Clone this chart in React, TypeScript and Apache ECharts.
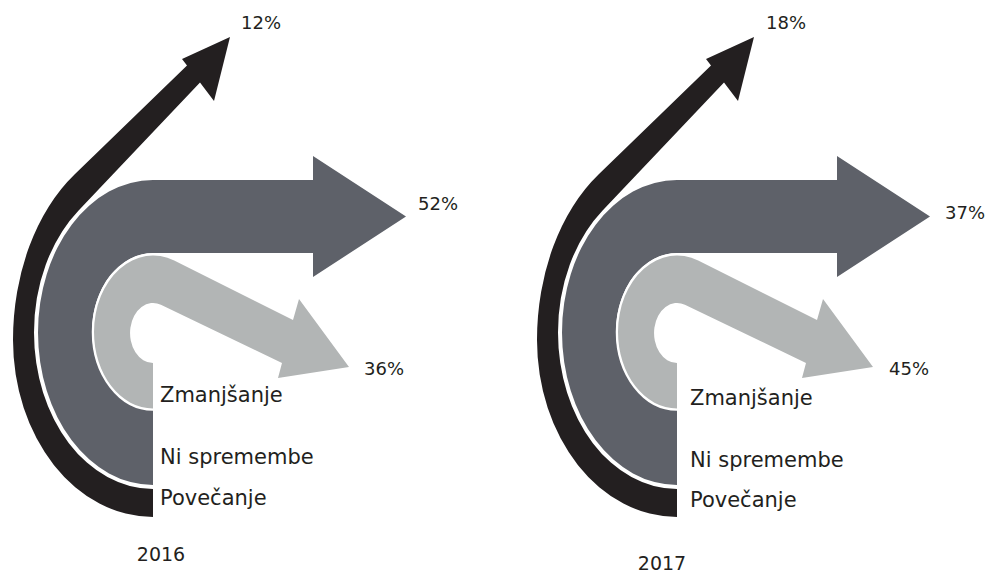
import React, { useEffect, useRef } from 'react';
import * as echarts from 'echarts';

// ---- data ----
const years = ['2016', '2017'];
const categories = ['Povečanje', 'Ni spremembe', 'Zmanjšanje'];
const increaseValues = [12, 18];
const noChangeValues = [52, 37];
const decreaseValues = [36, 45];

// ---- shapes (panel-local coordinates) ----
const UP_D =
  'M 153 517 A 140 177 0 0 1 13 340 A 140 200 0 0 1 74.5 174.4 L 187 65.5 L 182 59 L 230 37 L 214 101 L 200 82.6 L 78.6 210.4 A 119 156.5 0 0 0 34 332.5 A 119 156.5 0 0 0 153 489 Z';
const MID_D =
  'M 153 485 A 115 152.5 0 0 1 38 332.5 A 115 152.5 0 0 1 153 180 L 313 180 L 313 156 L 406 216.5 L 313 277 L 313 253 L 153 253 A 61 78 0 0 0 92 331 A 61 78 0 0 0 153 409 Z';
const DOWN_D =
  'M 153 408.5 A 59 76.5 0 0 1 94 332 A 59 76.5 0 0 1 174.2 260.6 L 293 320 L 299 299 L 349 367 L 278 378 L 282 363 L 160.9 304.8 A 23 30 0 1 0 153 363 Z';

echarts.graphic.registerShape('arrowUp', echarts.graphic.extendPath(UP_D, {}));
echarts.graphic.registerShape('arrowMid', echarts.graphic.extendPath(MID_D, {}));
echarts.graphic.registerShape('arrowDown', echarts.graphic.extendPath(DOWN_D, {}));

const COLORS = { up: '#231f20', mid: '#5e6169', down: '#b2b5b5', text: '#231f20' };
const FONT = 'DejaVu Sans, Verdana, sans-serif';

// layout per panel
const panelOffsets = [0, 524];
const pctPos = [
  { up: [241, 22], mid: [418, 203], down: [364, 368] },
  { up: [766, 22], mid: [945, 212], down: [889, 368] },
];
const catPos = [
  { x: 160, y: [498, 457, 395] },
  { x: 690, y: [500, 460, 398] },
];
const yearPos = [
  [161, 554],
  [662, 563],
];

function buildGraphics() {
  const els: any[] = [];
  let z = 1;
  years.forEach((yr, i) => {
    const dx = panelOffsets[i];
    els.push({ type: 'arrowUp', x: dx, y: 0, z: z++, style: { fill: COLORS.up } });
    els.push({ type: 'arrowMid', x: dx, y: 0, z: z++, style: { fill: COLORS.mid } });
    els.push({
      type: 'arrowDown', x: dx, y: 0, z: z++,
      style: { fill: '#ffffff', stroke: '#ffffff', lineWidth: 4.5, lineJoin: 'round' },
    });
    els.push({ type: 'arrowDown', x: dx, y: 0, z: z++, style: { fill: COLORS.down } });

    const pp = pctPos[i];
    const pctTexts: [number, number[]][] = [
      [increaseValues[i], pp.up],
      [noChangeValues[i], pp.mid],
      [decreaseValues[i], pp.down],
    ];
    pctTexts.forEach(([v, pos]) => {
      els.push({
        type: 'text', x: pos[0], y: pos[1], z: 100,
        style: {
          text: v + '%', fill: COLORS.text, font: `18px ${FONT}`,
          textAlign: 'left', textVerticalAlign: 'middle',
        },
      });
    });
    const cp = catPos[i];
    categories.forEach((c, k) => {
      els.push({
        type: 'text', x: cp.x, y: cp.y[k], z: 100,
        style: {
          text: c, fill: COLORS.text, font: `21px ${FONT}`,
          textAlign: 'left', textVerticalAlign: 'middle',
        },
      });
    });
    els.push({
      type: 'text', x: yearPos[i][0], y: yearPos[i][1], z: 100,
      style: {
        text: yr, fill: COLORS.text, font: `19px ${FONT}`,
        textAlign: 'center', textVerticalAlign: 'middle',
      },
    });
  });
  return els;
}

export default function App() {
  const ref = useRef<HTMLDivElement>(null);
  useEffect(() => {
    document.body.style.margin = '0';
    if (!ref.current) return;
    const chart = echarts.init(ref.current, undefined, { renderer: 'svg' });
    chart.setOption({
      animation: false,
      backgroundColor: '#ffffff',
      graphic: { elements: buildGraphics() },
    });
    return () => chart.dispose();
  }, []);
  return <div ref={ref} style={{ width: 988, height: 576 }} />;
}
